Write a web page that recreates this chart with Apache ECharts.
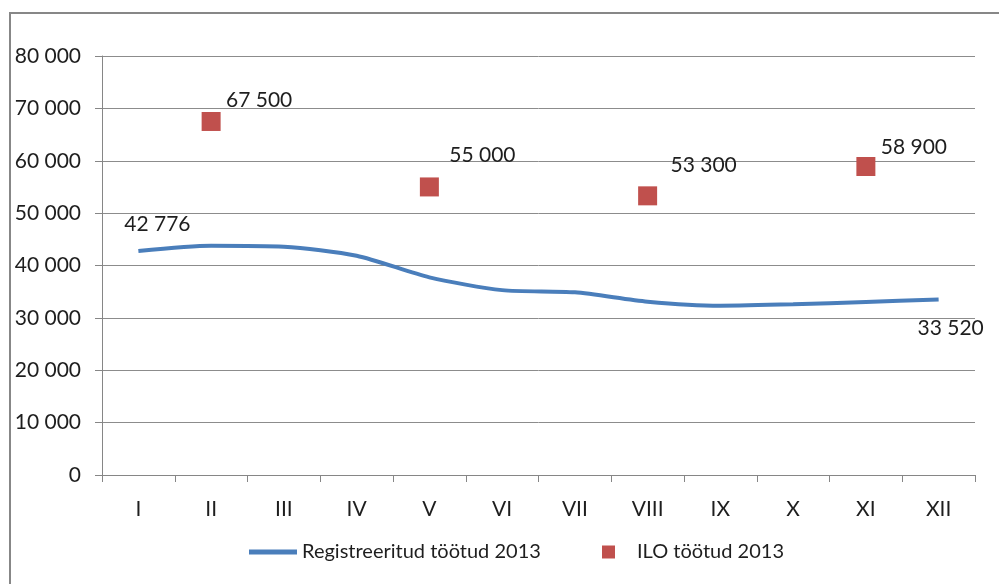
<!DOCTYPE html>
<html><head><meta charset="utf-8">
<script src="https://cdn.jsdelivr.net/npm/echarts@6/dist/echarts.min.js"></script>
<style>html,body{margin:0;padding:0;background:#fff}#c{width:999px;height:584px}</style>
</head><body><div id="c"></div>
<script>
var categories = ['I','II','III','IV','V','VI','VII','VIII','IX','X','XI','XII'];
var registeredName = 'Registreeritud töötud 2013';
var iloName = 'ILO töötud 2013';
var registered = [42776, 43780, 43590, 41870, 37740, 35300, 34870, 33090, 32320, 32580, 33030, 33520];
var ilo = [null, 67500, null, null, 55000, null, null, 53300, null, null, 58900, null];
var yTicks = { min: 0, max: 80000, interval: 10000 };

function fmt(v){ return String(v).replace(/\B(?=(\d{3})+(?!\d))/g, ' '); }
var FONT = 'Lato, "Open Sans", sans-serif';
var TXT = '#1e1e1e';

// label offsets (layout only)
var regLabelOffsets = {0: [19, -27], 11: [12, 29]};
var iloLabelOffsets = {1: [48, -21], 4: [53, -32], 7: [56, -31], 10: [48, -19]};

var regData = registered.map(function(v, i){
  var item = { value: v };
  if (regLabelOffsets[i]) {
    item.label = { show: true, position: 'inside', offset: regLabelOffsets[i],
      formatter: function(p){ return fmt(p.value); }, fontSize: 21, fontFamily: FONT, color: TXT };
  }
  return item;
});
var iloData = ilo.map(function(v, i){
  if (v === null) return null;
  return { value: v, label: { show: true, position: 'inside', offset: iloLabelOffsets[i],
      formatter: function(p){ return fmt(p.value); }, fontSize: 21, fontFamily: FONT, color: TXT } };
});

var chart = echarts.init(document.getElementById('c'), null, {renderer: 'canvas'});
chart.setOption({
  animation: false,
  backgroundColor: '#fff',
  graphic: [{ type: 'rect', shape: { x: 10, y: 13, width: 1100, height: 700 },
    style: { fill: 'none', stroke: '#878787', lineWidth: 2 }, z: 0 }],
  grid: { left: 102, top: 56, width: 873, height: 419 },
  legend: [
    { data: [{ name: registeredName, icon: 'rect' }], left: 249, top: 542, padding: 0,
      itemWidth: 48, itemHeight: 5, itemGap: 0,
      textStyle: { fontSize: 20, fontFamily: FONT, color: TXT, padding: [0,0,0,0] } },
    { data: [{ name: iloName, icon: 'rect' }], left: 602, top: 542, padding: 0,
      itemWidth: 13, itemHeight: 13,
      textStyle: { fontSize: 20, fontFamily: FONT, color: TXT, padding: [0,0,0,17] } }
  ],
  xAxis: {
    type: 'category', data: categories, boundaryGap: true,
    axisLine: { show: true, lineStyle: { color: '#868686', width: 1 } },
    axisTick: { show: true, length: 7, alignWithLabel: false, lineStyle: { color: '#868686' } },
    axisLabel: { margin: 24, fontSize: 21, fontFamily: FONT, color: TXT },
    splitLine: { show: false }
  },
  yAxis: {
    type: 'value', min: yTicks.min, max: yTicks.max, interval: yTicks.interval,
    axisLine: { show: true, lineStyle: { color: '#868686', width: 1 } },
    axisTick: { show: true, length: 7, lineStyle: { color: '#868686' } },
    axisLabel: { margin: 21, fontSize: 21, fontFamily: FONT, color: TXT, formatter: function(v){ return fmt(v); } },
    splitLine: { show: true, lineStyle: { color: '#8c8c8c', width: 1 } }
  },
  series: [
    { name: registeredName, type: 'line', data: regData, smooth: 0.25,
      symbol: 'circle', symbolSize: 0.1, showSymbol: true,
      lineStyle: { color: '#4a7ebb', width: 4 }, itemStyle: { color: '#4a7ebb' }, z: 3 },
    { name: iloName, type: 'scatter', data: iloData, symbol: 'rect', symbolSize: 19,
      itemStyle: { color: '#c0504d', opacity: 1 }, z: 4 }
  ]
});
</script></body></html>
